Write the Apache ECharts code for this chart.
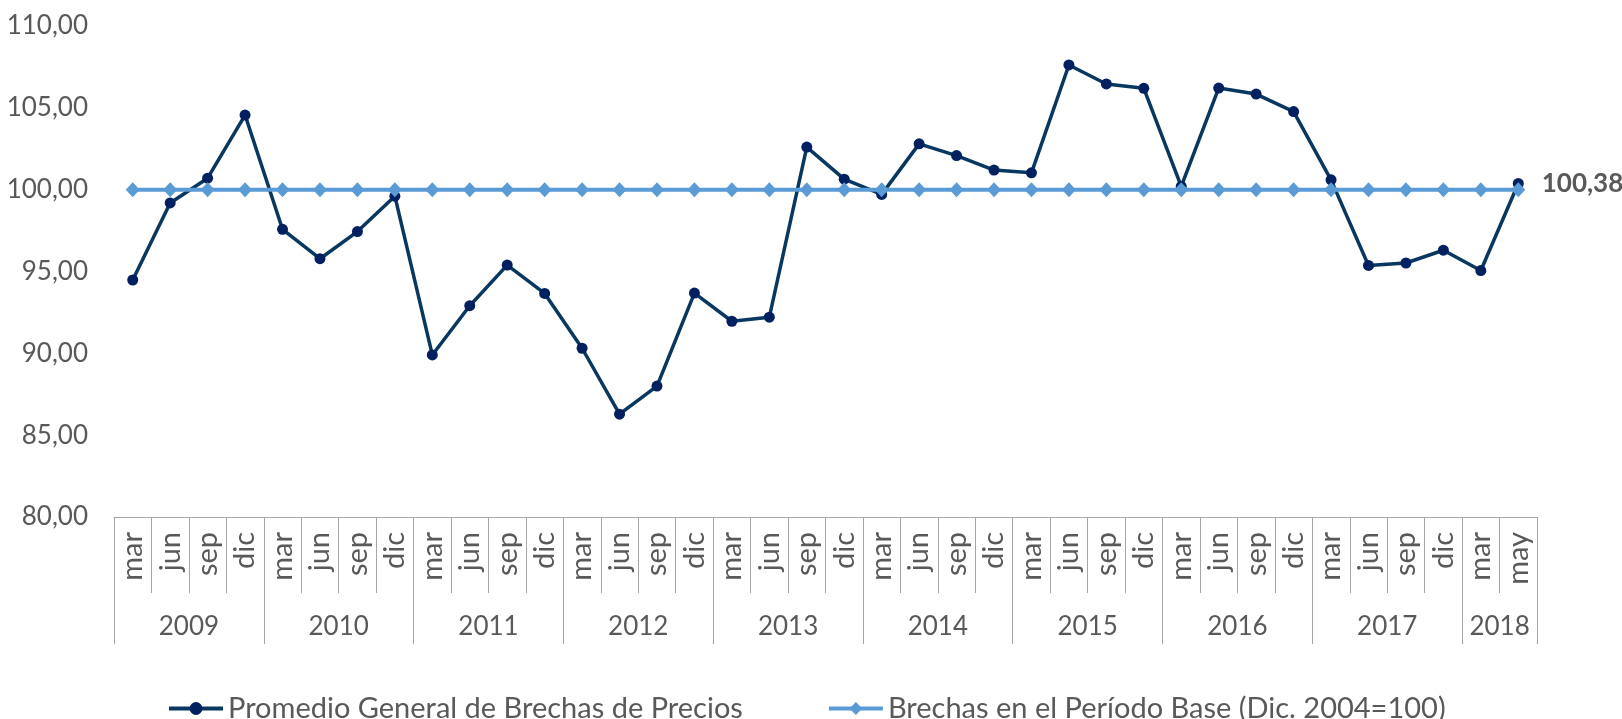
<!DOCTYPE html>
<html>
<head>
<meta charset="utf-8">
<title>Brechas de Precios</title>
<script src="https://cdn.jsdelivr.net/npm/echarts@6/dist/echarts.min.js"></script>
<style>
    html, body {margin: 0; padding: 0; background: #fff;}
    #chart {width: 1622px; height: 719px;}
</style>
</head>
<body>
<div id="chart"></div>
<script>
// categorias (trimestres) y años
var meses = [
    'mar','jun','sep','dic', 'mar','jun','sep','dic', 'mar','jun','sep','dic',
    'mar','jun','sep','dic', 'mar','jun','sep','dic', 'mar','jun','sep','dic',
    'mar','jun','sep','dic', 'mar','jun','sep','dic', 'mar','jun','sep','dic',
    'mar','may'
];
var anios = ['2009','2010','2011','2012','2013','2014','2015','2016','2017','2018'];
var mesesPorAnio = [4, 4, 4, 4, 4, 4, 4, 4, 4, 2];

// Promedio General de Brechas de Precios
var promedio = [
    94.48, 99.19, 100.70, 104.56,
    97.58, 95.78, 97.44, 99.60,
    89.90, 92.91, 95.39, 93.66,
    90.31, 86.28, 88.00, 93.68,
    91.96, 92.21, 102.60, 100.64,
    99.71, 102.80, 102.08, 101.20,
    101.03, 107.62, 106.46, 106.19,
    100.20, 106.21, 105.84, 104.77,
    100.60, 95.37, 95.52, 96.30,
    95.06, 100.38
];
// Brechas en el Periodo Base (Dic. 2004=100)
var base = [
    100, 100, 100, 100, 100, 100, 100, 100, 100, 100,
    100, 100, 100, 100, 100, 100, 100, 100, 100, 100,
    100, 100, 100, 100, 100, 100, 100, 100, 100, 100,
    100, 100, 100, 100, 100, 100, 100, 100
];
var yTicks = [80, 85, 90, 95, 100, 105, 110];

var fuente = 'Lato';
var gris = '#595959';
var lineaGris = '#a6a6a6';

function coma(v) {
    return Number(v).toFixed(2).replace('.', ',');
}

// posiciones de separadores y etiquetas de años
var cortes = [0], centros = [], etiquetaAnio = {};
var acum = 0;
for (var i = 0; i < mesesPorAnio.length; i++) {
    var c = acum + mesesPorAnio[i] / 2;
    centros.push(c);
    etiquetaAnio[c] = anios[i];
    acum += mesesPorAnio[i];
    cortes.push(acum);
}

function datosPromedio() {
    var arr = [];
    for (var i = 0; i < promedio.length; i++) {
        var obj = {value: promedio[i]};
        if (i == promedio.length - 1) {
            obj.label = {
                show: true,
                position: 'right',
                distance: 18,
                formatter: function (p) { return coma(p.value); },
                color: gris,
                fontFamily: fuente,
                fontSize: 26,
                fontWeight: 'bold'
            };
        }
        arr.push(obj);
    }
    return arr;
}

var myChart = echarts.init(document.getElementById('chart'));
var option = {
    backgroundColor: '#fff',
    animation: false,
    grid: {left: 114, right: 85, top: 26, bottom: 202},
    legend: {
        top: 689,
        left: 162,
        itemWidth: 54,
        itemHeight: 16,
        itemGap: 84,
        lineStyle: {width: 4},
        textStyle: {color: gris, fontFamily: fuente, fontSize: 29},
        data: ['Promedio General de Brechas de Precios', 'Brechas en el Período Base (Dic. 2004=100)']
    },
    xAxis: [
        {
            type: 'category',
            data: meses,
            boundaryGap: true,
            axisLine: {show: true, lineStyle: {color: lineaGris, width: 1}},
            axisTick: {show: true, length: 76, alignWithLabel: false, lineStyle: {color: lineaGris}},
            axisLabel: {
                interval: 0,
                rotate: 90,
                margin: 15,
                color: gris,
                fontFamily: fuente,
                fontSize: 29
            },
            splitLine: {show: false}
        },
        {
            type: 'value',
            position: 'bottom',
            min: 0,
            max: meses.length,
            axisLine: {show: false},
            axisTick: {show: true, length: 127, customValues: cortes, lineStyle: {color: lineaGris}},
            axisLabel: {
                show: true,
                customValues: centros,
                margin: 97,
                color: gris,
                fontFamily: fuente,
                fontSize: 26,
                formatter: function (v) { return etiquetaAnio[v] || ''; }
            },
            splitLine: {show: false}
        }
    ],
    yAxis: {
        type: 'value',
        min: yTicks[0],
        max: yTicks[yTicks.length - 1],
        interval: 5,
        axisLine: {show: false},
        axisTick: {show: false},
        splitLine: {show: false},
        axisLabel: {
            margin: 26,
            color: gris,
            fontFamily: fuente,
            fontSize: 26,
            formatter: function (v) { return coma(v); }
        }
    },
    series: [
        {
            name: 'Promedio General de Brechas de Precios',
            type: 'line',
            xAxisIndex: 0,
            data: datosPromedio(),
            symbol: 'circle',
            symbolSize: 11,
            lineStyle: {color: '#08375f', width: 3.5},
            itemStyle: {color: '#002060'}
        },
        {
            name: 'Brechas en el Período Base (Dic. 2004=100)',
            type: 'line',
            xAxisIndex: 0,
            data: base,
            symbol: 'diamond',
            symbolSize: [14, 15],
            lineStyle: {color: '#5b9bd5', width: 4},
            itemStyle: {color: '#5b9bd5'}
        }
    ]
};
myChart.setOption(option);
</script>
</body>
</html>
